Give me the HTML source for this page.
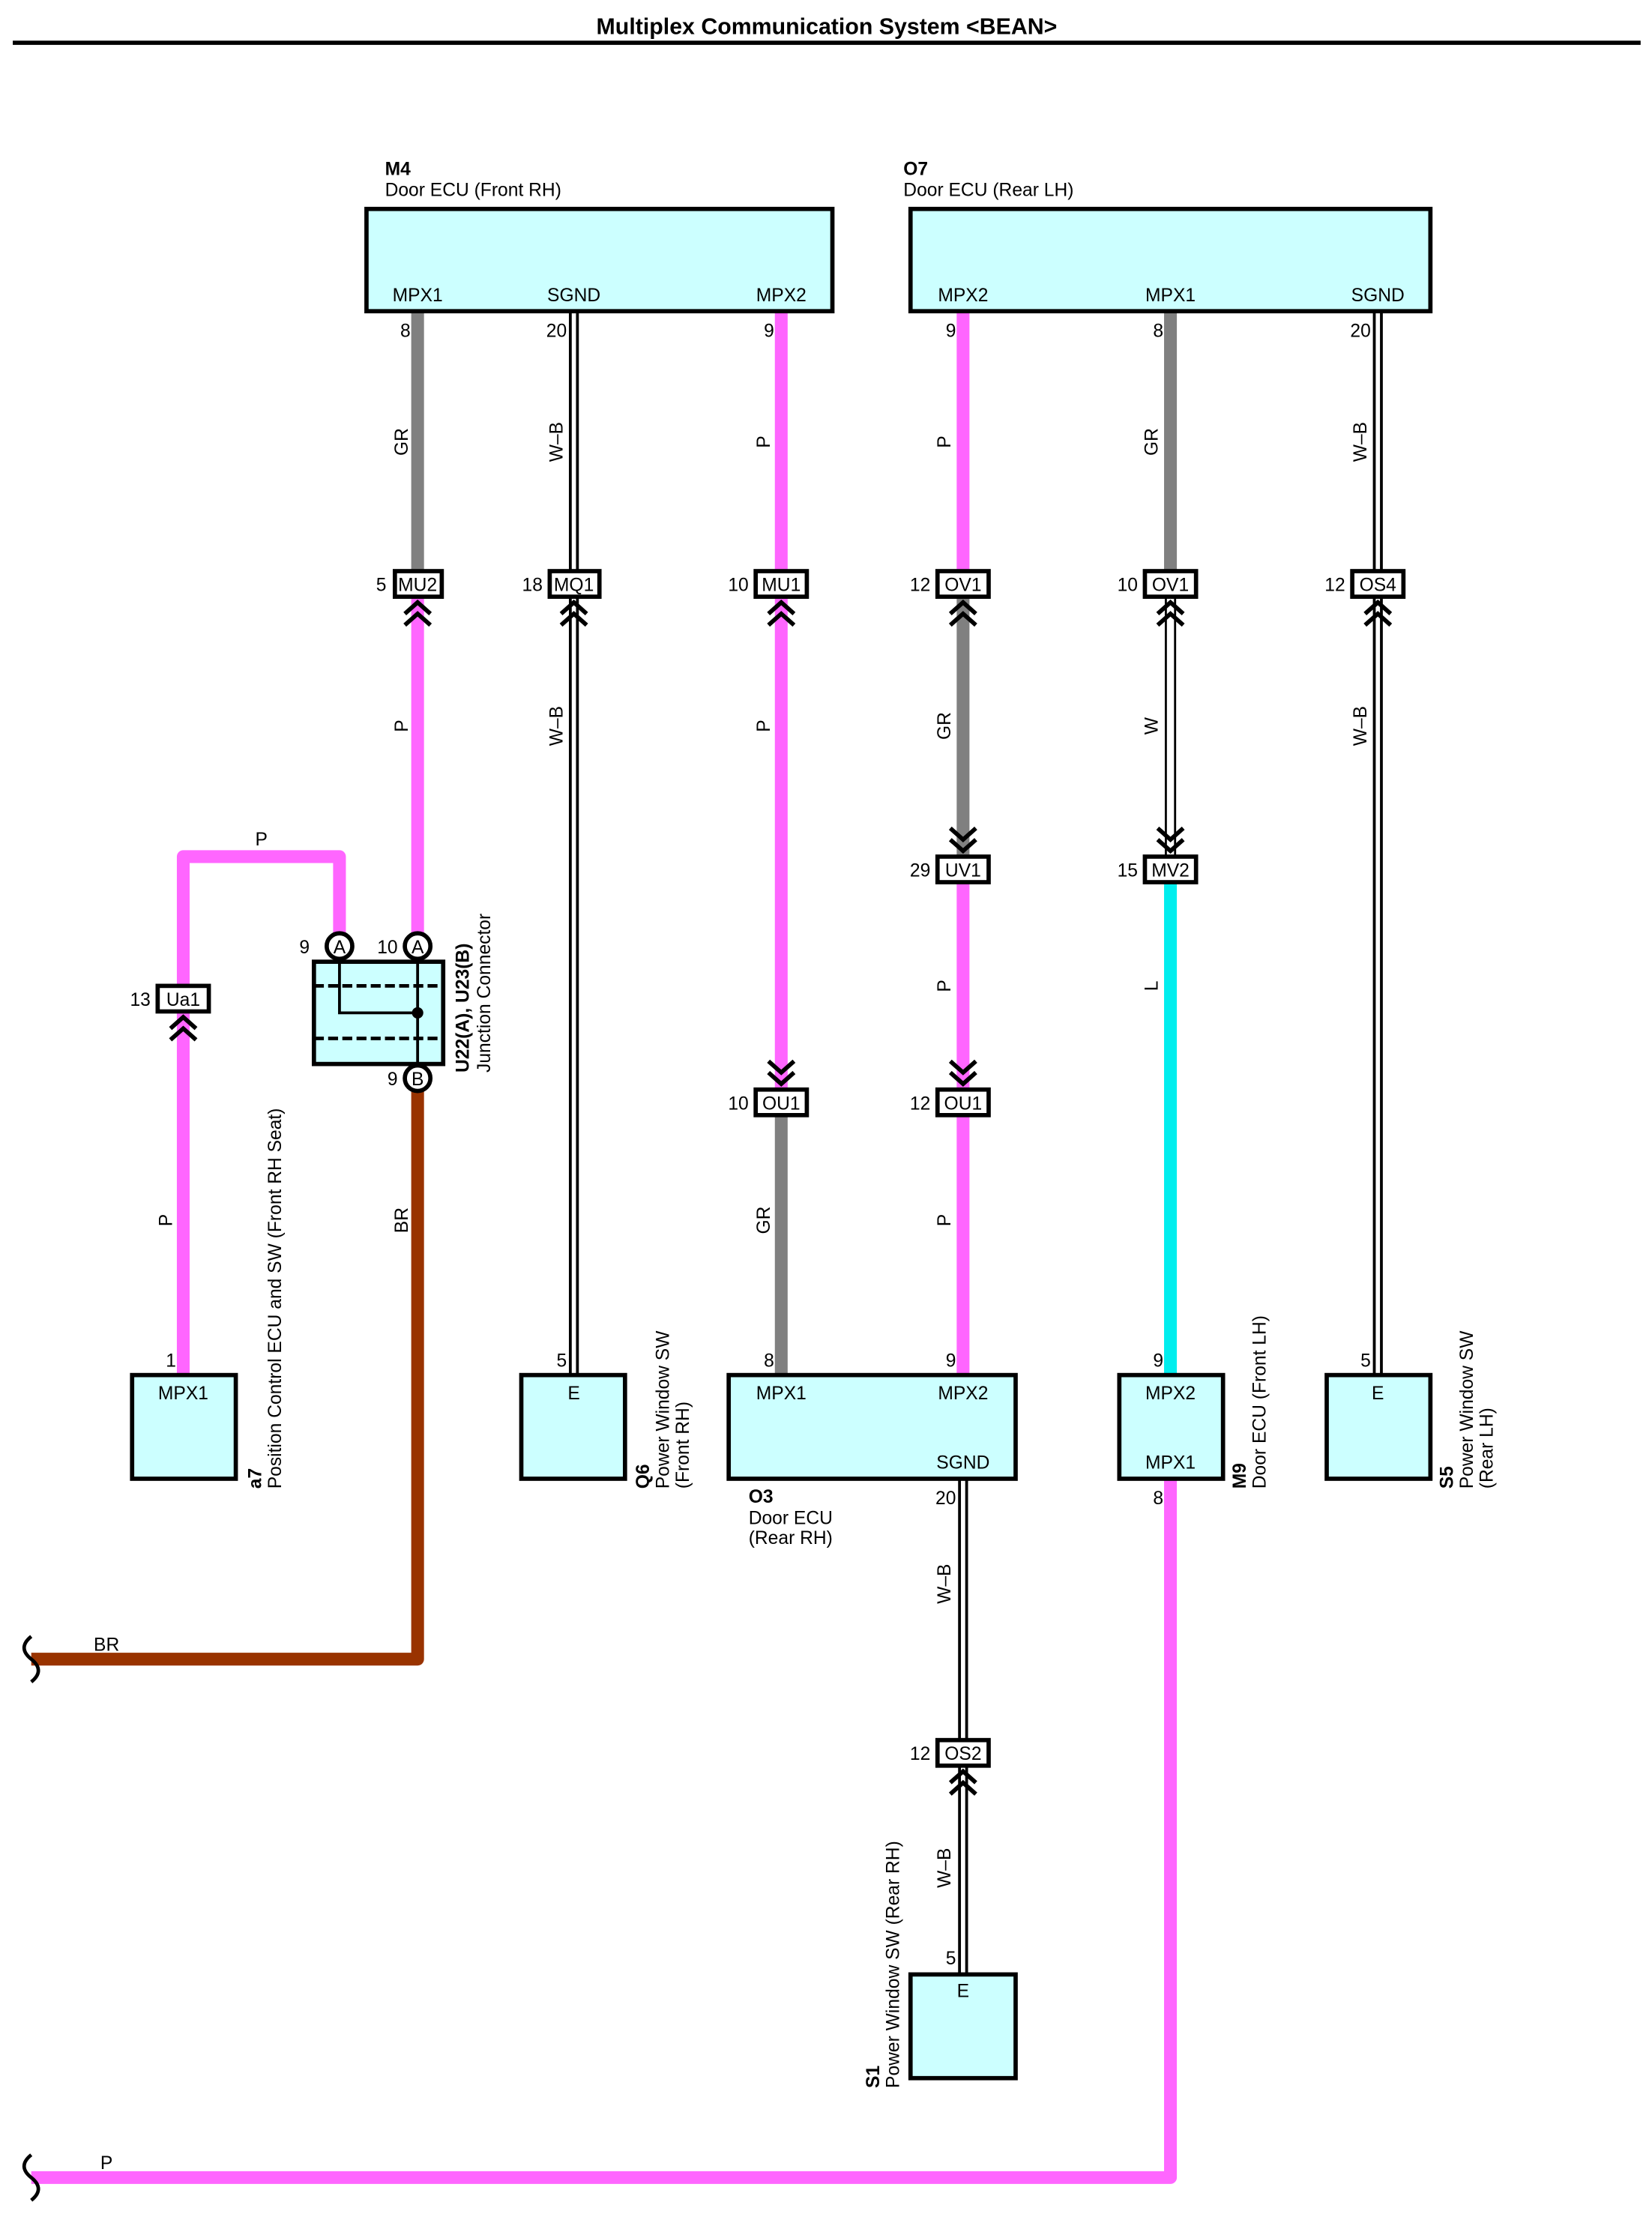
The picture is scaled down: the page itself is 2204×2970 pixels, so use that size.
<!DOCTYPE html>
<html><head><meta charset="utf-8"><style>
html,body{margin:0;padding:0;background:#fff}
svg{display:block}
text{font-family:"Liberation Sans",sans-serif;font-size:13px;fill:#000}
.b{font-weight:bold}
</style></head><body>
<svg width="2204" height="2970" viewBox="0 0 1163 1567" xmlns="http://www.w3.org/2000/svg">
<defs>
<g id="cu" fill="none" stroke="#000" stroke-width="3"><polyline points="-9,9 0,1 9,9"/><polyline points="-9,17 0,9 9,17"/></g>
<g id="cd" fill="none" stroke="#000" stroke-width="3"><polyline points="-9,-9 0,-1 9,-9"/><polyline points="-9,-17 0,-9 9,-17"/></g>
</defs>
<text x="582" y="24" text-anchor="middle" class="b" style="font-size:16px">Multiplex Communication System &lt;BEAN&gt;</text>
<line x1="9" y1="30" x2="1155" y2="30" stroke="#000" stroke-width="3"/>

<!-- wires -->
<g fill="none" stroke-linejoin="round">
<!-- x294 -->
<line x1="294" y1="219" x2="294" y2="402" stroke="#808080" stroke-width="9"/>
<line x1="294" y1="420" x2="294" y2="658" stroke="#ff66ff" stroke-width="9"/>
<polyline points="294,768 294,1168 22,1168" stroke="#993300" stroke-width="9"/>
<!-- a7 -->
<polyline points="129,968 129,603 239,603 239,658" stroke="#ff66ff" stroke-width="9"/>
<!-- x404 -->
<line x1="404" y1="219" x2="404" y2="968" stroke="#000" stroke-width="7"/>
<line x1="404" y1="219" x2="404" y2="968" stroke="#fff" stroke-width="3"/>
<!-- x550 -->
<line x1="550" y1="219" x2="550" y2="767" stroke="#ff66ff" stroke-width="9"/>
<line x1="550" y1="785" x2="550" y2="968" stroke="#808080" stroke-width="9"/>
<!-- x678 -->
<line x1="678" y1="219" x2="678" y2="402" stroke="#ff66ff" stroke-width="9"/>
<line x1="678" y1="420" x2="678" y2="603" stroke="#808080" stroke-width="9"/>
<line x1="678" y1="621" x2="678" y2="968" stroke="#ff66ff" stroke-width="9"/>
<line x1="678" y1="1041" x2="678" y2="1390" stroke="#000" stroke-width="7"/>
<line x1="678" y1="1041" x2="678" y2="1390" stroke="#fff" stroke-width="3"/>
<!-- x824 -->
<line x1="824" y1="219" x2="824" y2="402" stroke="#808080" stroke-width="9"/>
<line x1="824" y1="420" x2="824" y2="603" stroke="#000" stroke-width="8"/>
<line x1="824" y1="420" x2="824" y2="603" stroke="#fff" stroke-width="5"/>
<line x1="824" y1="621" x2="824" y2="968" stroke="#00eeee" stroke-width="9"/>
<polyline points="824,1041 824,1533 22,1533" stroke="#ff66ff" stroke-width="9"/>
<!-- x970 -->
<line x1="970" y1="219" x2="970" y2="968" stroke="#000" stroke-width="7"/>
<line x1="970" y1="219" x2="970" y2="968" stroke="#fff" stroke-width="3"/>
</g>
<!-- squiggles -->
<path d="M22,1152 q-10,8 0,16 q10,8 0,16" fill="none" stroke="#000" stroke-width="2.5"/>
<path d="M22,1517 q-10,8 0,16 q10,8 0,16" fill="none" stroke="#000" stroke-width="2.5"/>

<!-- ECU boxes -->
<g fill="#ccffff" stroke="#000" stroke-width="3">
<rect x="258" y="147" width="328" height="72"/>
<rect x="641" y="147" width="366" height="72"/>
<rect x="93" y="968" width="73" height="73"/>
<rect x="367" y="968" width="73" height="73"/>
<rect x="513" y="968" width="202" height="73"/>
<rect x="788" y="968" width="73" height="73"/>
<rect x="934" y="968" width="73" height="73"/>
<rect x="641" y="1390" width="74" height="73"/>
<rect x="221" y="677" width="91" height="72"/>
</g>
<!-- junction internals -->
<g stroke="#000" fill="none">
<line x1="221" y1="694" x2="312" y2="694" stroke-width="2.5" stroke-dasharray="7,3"/>
<line x1="221" y1="731" x2="312" y2="731" stroke-width="2.5" stroke-dasharray="7,3"/>
<polyline points="239,675 239,713 294,713" stroke-width="2"/>
<line x1="294" y1="675" x2="294" y2="750" stroke-width="2"/>
</g>
<circle cx="294" cy="713" r="4"/>
<g fill="#fff" stroke="#000" stroke-width="3">
<circle cx="239" cy="666" r="9"/><circle cx="294" cy="666" r="9"/><circle cx="294" cy="759" r="9"/>
</g>
<g text-anchor="middle">
<text x="239" y="671">A</text><text x="294" y="671">A</text><text x="294" y="764">B</text>
</g>
<text x="218" y="671" text-anchor="end">9</text>
<text x="280" y="671" text-anchor="end">10</text>
<text x="280" y="764" text-anchor="end">9</text>
<text transform="translate(330,755) rotate(-90)" class="b">U22(A), U23(B)</text>
<text transform="translate(345,755) rotate(-90)">Junction Connector</text>

<!-- inline connectors -->
<g fill="#fff" stroke="#000" stroke-width="3">
<rect x="278" y="402" width="33" height="18"/>
<rect x="387" y="402" width="35" height="18"/>
<rect x="532" y="402" width="36" height="18"/>
<rect x="660" y="402" width="36" height="18"/>
<rect x="806" y="402" width="36" height="18"/>
<rect x="952" y="402" width="36" height="18"/>
<rect x="660" y="603" width="36" height="18"/>
<rect x="806" y="603" width="36" height="18"/>
<rect x="532" y="767" width="36" height="18"/>
<rect x="660" y="767" width="36" height="18"/>
<rect x="111" y="694" width="36" height="18"/>
<rect x="660" y="1225" width="36" height="18"/>
</g>
<g text-anchor="middle">
<text x="294" y="416">MU2</text><text x="404" y="416">MQ1</text><text x="550" y="416">MU1</text>
<text x="678" y="416">OV1</text><text x="824" y="416">OV1</text><text x="970" y="416">OS4</text>
<text x="678" y="617">UV1</text><text x="824" y="617">MV2</text>
<text x="550" y="781">OU1</text><text x="678" y="781">OU1</text>
<text x="129" y="708">Ua1</text><text x="678" y="1239">OS2</text>
</g>
<g text-anchor="end">
<text x="272" y="416">5</text><text x="382" y="416">18</text><text x="527" y="416">10</text>
<text x="655" y="416">12</text><text x="801" y="416">10</text><text x="947" y="416">12</text>
<text x="655" y="617">29</text><text x="801" y="617">15</text>
<text x="527" y="781">10</text><text x="655" y="781">12</text>
<text x="106" y="708">13</text><text x="655" y="1239">12</text>
</g>
<!-- chevrons -->
<use href="#cu" x="294" y="423"/><use href="#cu" x="404" y="423"/><use href="#cu" x="550" y="423"/>
<use href="#cu" x="678" y="423"/><use href="#cu" x="824" y="423"/><use href="#cu" x="970" y="423"/>
<use href="#cu" x="129" y="715"/><use href="#cu" x="678" y="1246"/>
<use href="#cd" x="678" y="600"/><use href="#cd" x="824" y="600"/>
<use href="#cd" x="550" y="764"/><use href="#cd" x="678" y="764"/>

<!-- pin numbers -->
<g text-anchor="end">
<text x="289" y="237">8</text><text x="399" y="237">20</text><text x="545" y="237">9</text>
<text x="673" y="237">9</text><text x="819" y="237">8</text><text x="965" y="237">20</text>
<text x="124" y="962">1</text><text x="399" y="962">5</text><text x="545" y="962">8</text>
<text x="673" y="962">9</text><text x="819" y="962">9</text><text x="965" y="962">5</text>
<text x="673" y="1059">20</text><text x="819" y="1059">8</text><text x="673" y="1383">5</text>
</g>
<!-- box texts -->
<g text-anchor="middle">
<text x="294" y="212">MPX1</text><text x="404" y="212">SGND</text><text x="550" y="212">MPX2</text>
<text x="678" y="212">MPX2</text><text x="824" y="212">MPX1</text><text x="970" y="212">SGND</text>
<text x="129" y="985">MPX1</text><text x="404" y="985">E</text>
<text x="550" y="985">MPX1</text><text x="678" y="985">MPX2</text><text x="678" y="1034">SGND</text>
<text x="824" y="985">MPX2</text><text x="824" y="1034">MPX1</text>
<text x="970" y="985">E</text><text x="678" y="1406">E</text>
</g>
<!-- titles -->
<text x="271" y="123" class="b">M4</text><text x="271" y="138">Door ECU (Front RH)</text>
<text x="636" y="123" class="b">O7</text><text x="636" y="138">Door ECU (Rear LH)</text>
<text x="527" y="1058" class="b">O3</text><text x="527" y="1073">Door ECU</text><text x="527" y="1087">(Rear RH)</text>
<text transform="translate(184,1048) rotate(-90)"><tspan class="b">a7</tspan></text>
<text transform="translate(198,1048) rotate(-90)">Position Control ECU and SW (Front RH Seat)</text>
<text transform="translate(457,1048) rotate(-90)" class="b">Q6</text>
<text transform="translate(471,1048) rotate(-90)">Power Window SW</text>
<text transform="translate(485,1048) rotate(-90)">(Front RH)</text>
<text transform="translate(877,1048) rotate(-90)" class="b">M9</text>
<text transform="translate(891,1048) rotate(-90)">Door ECU (Front LH)</text>
<text transform="translate(1023,1048) rotate(-90)" class="b">S5</text>
<text transform="translate(1037,1048) rotate(-90)">Power Window SW</text>
<text transform="translate(1051,1048) rotate(-90)">(Rear LH)</text>
<text transform="translate(619,1470) rotate(-90)" class="b">S1</text>
<text transform="translate(633,1470) rotate(-90)">Power Window SW (Rear RH)</text>

<!-- wire color labels -->
<g text-anchor="middle">
<text transform="translate(287,311) rotate(-90)">GR</text>
<text transform="translate(396,311) rotate(-90)">W–B</text>
<text transform="translate(542,311) rotate(-90)">P</text>
<text transform="translate(669,311) rotate(-90)">P</text>
<text transform="translate(815,311) rotate(-90)">GR</text>
<text transform="translate(962,311) rotate(-90)">W–B</text>
<text transform="translate(287,511) rotate(-90)">P</text>
<text transform="translate(396,511) rotate(-90)">W–B</text>
<text transform="translate(542,511) rotate(-90)">P</text>
<text transform="translate(669,511) rotate(-90)">GR</text>
<text transform="translate(815,511) rotate(-90)">W</text>
<text transform="translate(962,511) rotate(-90)">W–B</text>
<text transform="translate(669,694) rotate(-90)">P</text>
<text transform="translate(815,694) rotate(-90)">L</text>
<text transform="translate(542,859) rotate(-90)">GR</text>
<text transform="translate(669,859) rotate(-90)">P</text>
<text transform="translate(121,859) rotate(-90)">P</text>
<text transform="translate(287,859) rotate(-90)">BR</text>
<text transform="translate(669,1115) rotate(-90)">W–B</text>
<text transform="translate(669,1315) rotate(-90)">W–B</text>
<text x="184" y="595">P</text>
<text x="75" y="1162">BR</text>
<text x="75" y="1527">P</text>
</g>
</svg>
</body></html>
